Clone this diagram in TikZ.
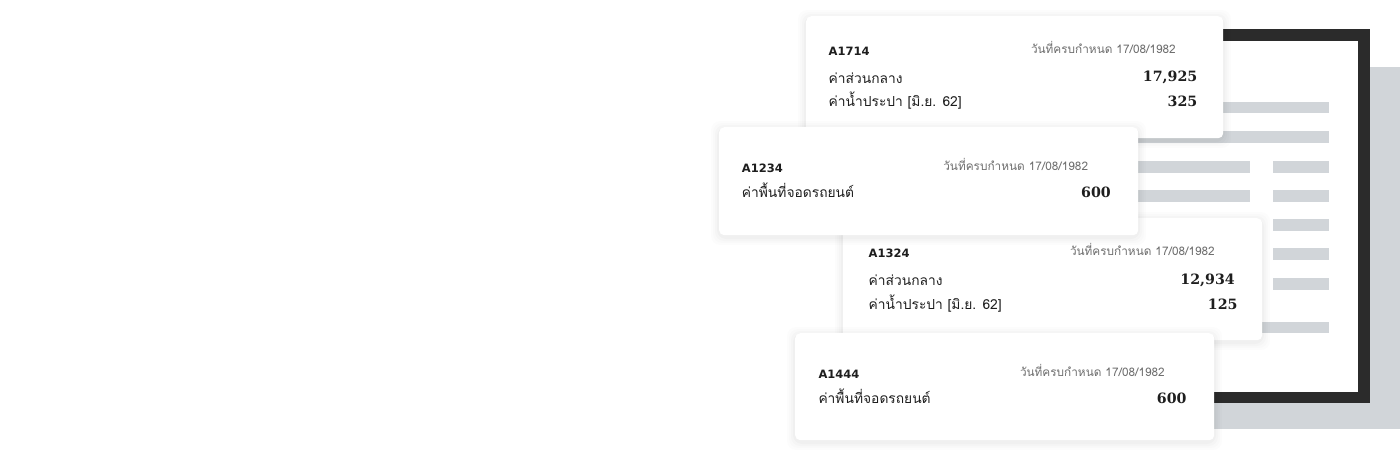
\documentclass[tikz,border=0pt]{standalone}
\usepackage{fontspec}
\setmainfont{DejaVu Sans}
\newfontfamily\thaif[Script=Thai]{Loma}
\newfontfamily\numf{DejaVu Serif}
\definecolor{docgrey}{HTML}{D1D5D9}
\definecolor{frameblk}{HTML}{2B2B2B}
\definecolor{dategrey}{HTML}{6E6E6E}
\definecolor{txt}{HTML}{1E1E1E}
\tikzset{
  card/.style={fill=white, rounded corners=5pt, inner sep=0pt, anchor=north west},
  cid/.style={anchor=base west, inner sep=0pt, text=txt, font=\bfseries\fontsize{11.5}{13}\selectfont},
  cdate/.style={anchor=base east, inner sep=0pt, text=dategrey, font=\thaif\fontsize{11.8}{13}\selectfont},
  citem/.style={anchor=base west, inner sep=0pt, text=txt, font=\thaif\fontsize{13.8}{16}\selectfont},
  cnum/.style={anchor=base east, inner sep=0pt, text=txt, font=\numf\bfseries\fontsize{14.2}{16}\selectfont},
  bar/.style={fill=docgrey},
}
\newcommand\cardshadow[4]{%
  \foreach \d/\o in {8/0.010,6/0.012,4/0.016,2/0.02}{%
    \fill[black,opacity=\o,rounded corners=9pt] (#1-\d,#2-\d+2) rectangle (#3+\d,#4+\d+2);}%
}
\begin{document}
\begin{tikzpicture}[x=1pt,y=-1pt]
\useasboundingbox (0,0) rectangle (1400,463);
\fill[white] (0,0) rectangle (1400,463);
% document back
\fill[docgrey] (930,67) rectangle (1400,429);
\fill[frameblk] (900,29) rectangle (1370,403);
\fill[white] (912,41) rectangle (1358,392);
% lines in the document
\fill[bar] (1000,102) rectangle (1329,113);
\fill[bar] (1000,131) rectangle (1329,143);
\fill[bar] (1000,161) rectangle (1250,173);
\fill[bar] (1273,161) rectangle (1329,173);
\fill[bar] (1000,190) rectangle (1250,202);
\fill[bar] (1273,190) rectangle (1329,202);
\fill[bar] (1000,219) rectangle (1250,231);
\fill[bar] (1273,219) rectangle (1329,231);
\fill[bar] (1273,248) rectangle (1329,260);
\fill[bar] (1273,278) rectangle (1329,290);
\fill[bar] (1000,322) rectangle (1329,333);

% card A1714
\cardshadow{806}{16}{1223}{138}
\node[card, minimum width=417pt, minimum height=122pt] (c1) at (806,16) {};
\node[cid] (c1id) at (828.5,55.5) {A1714};
\node[cdate] (c1date) at (1176,53) {วันที่ครบกำหนด 17/08/1982};
\node[citem] (c1a) at (828.5,83) {ค่าส่วนกลาง};
\node[cnum] (c1an) at (1197.5,81.7) {17,925};
\node[citem] (c1b) at (828.5,106) {ค่าน้ำประปา [มิ.ย. 62]};
\node[cnum] (c1bn) at (1197.5,106) {325};

% card A1324
\cardshadow{843}{218}{1262}{340}
\node[card, minimum width=419pt, minimum height=122pt] (c3) at (843,218) {};
\node[cid] (c3id) at (868.5,257.7) {A1324};
\node[cdate] (c3date) at (1215,255.7) {วันที่ครบกำหนด 17/08/1982};
\node[citem] (c3a) at (868.5,285.5) {ค่าส่วนกลาง};
\node[cnum] (c3an) at (1235,284.3) {12,934};
\node[citem] (c3b) at (868.5,309) {ค่าน้ำประปา [มิ.ย. 62]};
\node[cnum] (c3bn) at (1237.7,309) {125};

% card A1234
\cardshadow{719}{127}{1138}{235}
\node[card, minimum width=419pt, minimum height=108pt] (c2) at (719,127) {};
\node[cid] (c2id) at (741.7,172.7) {A1234};
\node[cdate] (c2date) at (1088.3,170) {วันที่ครบกำหนด 17/08/1982};
\node[citem] (c2a) at (741.7,197) {ค่าพื้นที่จอดรถยนต์};
\node[cnum] (c2an) at (1111,197.3) {600};

% card A1444
\cardshadow{795}{333}{1214}{440}
\node[card, minimum width=419pt, minimum height=107pt] (c4) at (795,333) {};
\node[cid] (c4id) at (818.3,378.3) {A1444};
\node[cdate] (c4date) at (1165,376) {วันที่ครบกำหนด 17/08/1982};
\node[citem] (c4a) at (818.3,403.3) {ค่าพื้นที่จอดรถยนต์};
\node[cnum] (c4an) at (1186.7,403.3) {600};
\end{tikzpicture}
\end{document}
